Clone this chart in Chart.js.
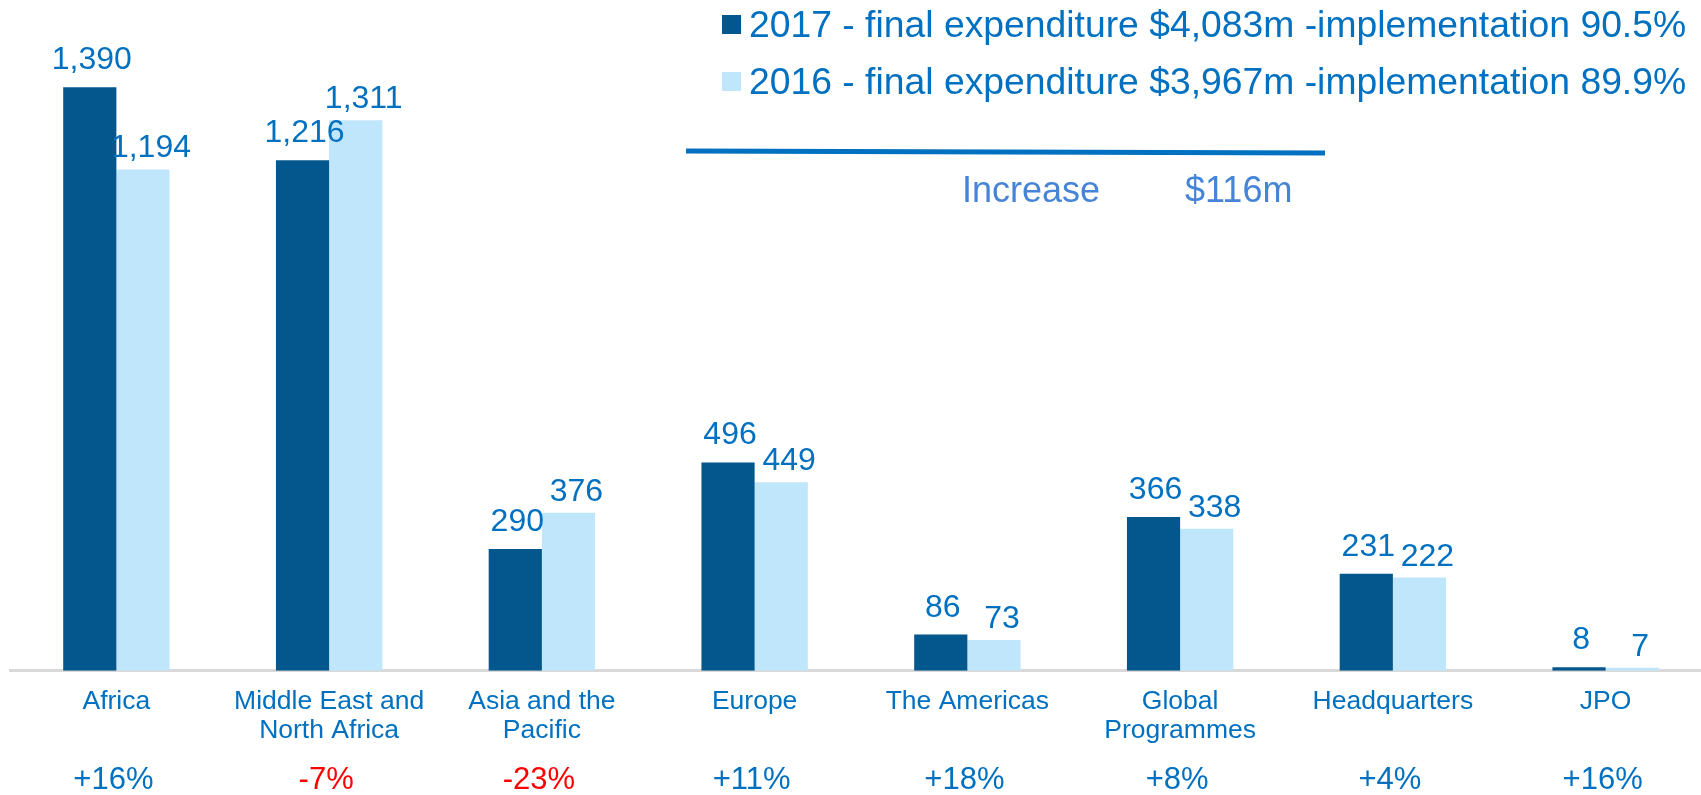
<!DOCTYPE html>
<html>
<head>
<meta charset="utf-8">
<title>Expenditure by region 2017 vs 2016</title>
<script src="https://cdn.jsdelivr.net/npm/chart.js@4/dist/chart.umd.min.js"></script>
<style>
    html, body { margin: 0; padding: 0; background: #fff; overflow: hidden; }
    #wrap { position: relative; width: 1712px; height: 795px; }
</style>
</head>
<body>
<div id="wrap"><canvas id="myChart"></canvas></div>
<script>
// ---- data ----
const categories = ['Africa', ['Middle East and', 'North Africa'], ['Asia and the', 'Pacific'], 'Europe',
    'The Americas', ['Global', 'Programmes'], 'Headquarters', 'JPO'];
const values2017 = [1390, 1216, 290, 496, 86, 366, 231, 8];
const values2016 = [1194, 1311, 376, 449, 73, 338, 222, 7];
const changeLabels = ['+16%', '-7%', '-23%', '+11%', '+18%', '+8%', '+4%', '+16%'];
const seriesLabels = [
    '2017 - final expenditure $4,083m -implementation 90.5%',
    '2016 - final expenditure $3,967m -implementation 89.9%'
];
const increaseLabels = ['Increase', '$116m'];

const FONT = "'Liberation Sans', Arial, sans-serif";
const BLUE_TEXT = '#0070c0';
const colors = ['#03578c', '#c0e6fc'];

/* Value labels above each bar */
const valueLabels = {
    id: 'valueLabels',
    afterDatasetsDraw(chart) {
        const ctx = chart.ctx;
        ctx.save();
        ctx.font = '32px ' + FONT;
        ctx.fillStyle = BLUE_TEXT;
        ctx.textAlign = 'center';
        ctx.textBaseline = 'alphabetic';
        const offsets = [{ dx: 2, dy: 18 }, { dx: 8, dy: 12 }];
        chart.data.datasets.forEach((ds, i) => {
            chart.getDatasetMeta(i).data.forEach((bar, j) => {
                const txt = ds.data[j].toLocaleString('en-US');
                ctx.fillText(txt, bar.x + offsets[i].dx, bar.y - offsets[i].dy);
            });
        });
        ctx.restore();
    }
};

/* Percent change row under the category labels */
const changeRow = {
    id: 'changeRow',
    afterDraw(chart) {
        const ctx = chart.ctx;
        const x = chart.scales.x;
        ctx.save();
        ctx.font = '31px ' + FONT;
        ctx.textAlign = 'center';
        ctx.textBaseline = 'alphabetic';
        changeLabels.forEach((lbl, i) => {
            ctx.fillStyle = lbl.startsWith('-') ? '#ff0000' : BLUE_TEXT;
            ctx.fillText(lbl, x.getPixelForValue(i) - 3, chart.chartArea.bottom + 118);
        });
        ctx.restore();
    }
};

/* Legend block, total line and "Increase" note */
const headerNote = {
    id: 'headerNote',
    afterDraw(chart) {
        const ctx = chart.ctx;
        ctx.save();
        ctx.font = '37.3px ' + FONT;
        ctx.textBaseline = 'alphabetic';
        seriesLabels.forEach((lbl, i) => {
            const top = 15 + i * 57;
            ctx.fillStyle = colors[i];
            ctx.fillRect(722, top, 19, 19);
            ctx.fillStyle = BLUE_TEXT;
            ctx.textAlign = 'left';
            ctx.fillText(lbl, 749, top + 22);
        });

        ctx.strokeStyle = BLUE_TEXT;
        ctx.lineWidth = 5;
        ctx.beginPath();
        ctx.moveTo(686, 151);
        ctx.lineTo(1325, 153);
        ctx.stroke();

        ctx.font = '36px ' + FONT;
        ctx.fillStyle = '#4584d6';
        ctx.fillText(increaseLabels[0], 962, 202);
        ctx.fillText(increaseLabels[1], 1185, 202);
        ctx.restore();
    }
};

new Chart(document.getElementById('myChart'), {
    type: 'bar',
    data: {
        labels: categories,
        datasets: [
            { label: seriesLabels[0], data: values2017, backgroundColor: colors[0] },
            { label: seriesLabels[1], data: values2016, backgroundColor: colors[1] }
        ]
    },
    options: {
        responsive: true,
        maintainAspectRatio: false,
        animation: false,
        layout: { padding: { top: 41, left: 10, right: 0, bottom: 34 } },
        datasets: { bar: { categoryPercentage: 0.5, barPercentage: 1.0 } },
        plugins: {
            legend: { display: false },
            tooltip: { enabled: false }
        },
        scales: {
            x: {
                grid: { display: false, drawTicks: false },
                border: { display: true, color: '#d9d9d9', width: 3 },
                ticks: {
                    color: BLUE_TEXT,
                    font: { family: FONT, size: 26.5, lineHeight: 1.1 },
                    padding: 16,
                    maxRotation: 0,
                    autoSkip: false
                }
            },
            y: { display: false, min: 0, max: 1500 }
        }
    },
    plugins: [valueLabels, changeRow, headerNote]
});
</script>
</body>
</html>
